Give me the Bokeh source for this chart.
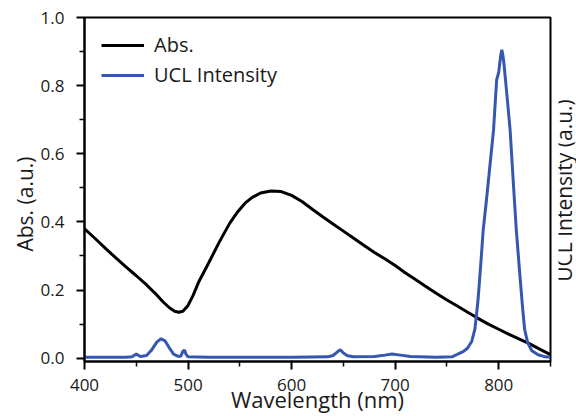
import numpy as np
from bokeh.plotting import figure
from bokeh.layouts import row
from bokeh.models import (Range1d, FixedTicker, PrintfTickFormatter, Legend,
                          LegendItem, Label)
from bokeh.embed import file_html
from bokeh.resources import INLINE

# ---------------- data ----------------
abs_wl = [400, 410, 420, 430, 440, 450, 460, 470, 476, 482, 487, 491, 495, 500,
          505, 510, 520, 530, 540, 548, 555, 562, 570, 580, 590, 600, 610, 620,
          630, 640, 650, 660, 670, 680, 690, 700, 710, 720, 730, 740, 750, 760,
          770, 780, 790, 800, 810, 820, 830, 840, 850]
abs_val = [0.380, 0.352, 0.323, 0.295, 0.268, 0.242, 0.215, 0.185, 0.165, 0.148,
           0.138, 0.135, 0.138, 0.155, 0.185, 0.222, 0.280, 0.340, 0.395, 0.430,
           0.455, 0.472, 0.485, 0.491, 0.489, 0.478, 0.460, 0.437, 0.415, 0.394,
           0.373, 0.352, 0.331, 0.310, 0.292, 0.272, 0.250, 0.230, 0.210, 0.190,
           0.171, 0.153, 0.135, 0.117, 0.100, 0.085, 0.070, 0.056, 0.042, 0.026,
           0.010]

ucl_wl = [400, 440, 446, 450, 454, 460, 465, 470, 474, 478, 482, 486, 490, 493,
          495, 496.5, 498, 500, 520, 600, 635, 640, 644, 647, 650, 654, 660, 680,
          690, 697, 705, 715, 740, 755, 761, 766, 770, 774, 777, 780, 783, 785,
          788, 791, 795, 798, 800, 802, 803, 804, 805, 808, 811, 814, 817, 820,
          823, 825, 828, 832, 838, 845, 850]
ucl_val = [0.003, 0.003, 0.004, 0.012, 0.005, 0.008, 0.025, 0.048, 0.057, 0.050,
           0.030, 0.012, 0.006, 0.006, 0.020, 0.024, 0.012, 0.004, 0.003, 0.003,
           0.004, 0.008, 0.018, 0.025, 0.015, 0.007, 0.004, 0.005, 0.009, 0.012,
           0.009, 0.005, 0.003, 0.004, 0.013, 0.020, 0.030, 0.050, 0.085, 0.170,
           0.290, 0.376, 0.460, 0.550, 0.670, 0.817, 0.840, 0.890, 0.905, 0.890,
           0.866, 0.770, 0.670, 0.520, 0.376, 0.260, 0.150, 0.085, 0.045, 0.022,
           0.010, 0.004, 0.003]

x_major = [400, 500, 600, 700, 800]
x_minor = [450, 550, 650, 750, 850]
y_major = [0.0, 0.2, 0.4, 0.6, 0.8, 1.0]
y_minor = [0.1, 0.3, 0.5, 0.7, 0.9]

series_names = ["Abs.", "UCL Intensity"]
x_title = "Wavelength (nm)"
y_title = "Abs. (a.u.)"
y2_title = "UCL Intensity (a.u.)"

FONT = "Open Sans"
BLUE = "#3557b0"
TXT = "#1a1a1a"

p = figure(width=521, height=416, output_backend="svg", toolbar_location=None,
           x_range=Range1d(400, 850), y_range=Range1d(-0.0097, 1.0),
           min_border_left=44, min_border_right=8, min_border_top=17,
           min_border_bottom=55)
p.xgrid.visible = False
p.ygrid.visible = False
p.outline_line_color = "black"
p.outline_line_width = 2
p.outline_line_alpha = 1

r_abs = p.line(abs_wl, abs_val, line_color="black", line_width=3)
r_ucl = p.line(ucl_wl, ucl_val, line_color=BLUE, line_width=3)

for ax, maj, mnr in ((p.xaxis[0], x_major, x_minor), (p.yaxis[0], y_major, y_minor)):
    ax.ticker = FixedTicker(ticks=maj, minor_ticks=mnr)
    ax.axis_line_color = "black"
    ax.axis_line_width = 2
    ax.major_tick_line_color = "black"
    ax.major_tick_line_width = 2
    ax.major_tick_out = 8
    ax.major_tick_in = 0
    ax.minor_tick_line_color = "black"
    ax.minor_tick_line_width = 1.5
    ax.minor_tick_out = 5
    ax.minor_tick_in = 0
    ax.major_label_text_font = FONT
    ax.major_label_text_font_size = "17px"
    ax.major_label_text_color = TXT
    ax.axis_label_text_font = FONT
    ax.axis_label_text_font_style = "normal"
    ax.axis_label_text_color = TXT

p.yaxis[0].formatter = PrintfTickFormatter(format="%.1f")
p.yaxis[0].major_label_standoff = 12

p.xaxis[0].major_label_standoff = 9
p.xaxis[0].axis_label = x_title
p.xaxis[0].axis_label_text_font_size = "22px"
p.xaxis[0].axis_label_text_line_height = 0.6
p.xaxis[0].axis_label_standoff = -10

legend = Legend(items=[LegendItem(label=series_names[0], renderers=[r_abs]),
                       LegendItem(label=series_names[1], renderers=[r_ucl])],
                location=(0, 256), margin=0, padding=17, spacing=3,
                glyph_width=43, glyph_height=20, label_height=20,
                label_standoff=10, label_text_font=FONT,
                label_text_font_size="20px", label_text_color=TXT,
                border_line_alpha=0, background_fill_alpha=0)
p.add_layout(legend)


def strip(width, text, bx, cy):
    s = figure(width=width, height=416, output_backend="svg",
               toolbar_location=None, x_axis_type=None, y_axis_type=None,
               x_range=Range1d(0, 1), y_range=Range1d(0, 1), min_border=0,
               outline_line_color=None)
    s.add_layout(Label(x=bx, y=cy, x_units="screen", y_units="screen",
                       text=text, text_font=FONT, text_font_size="21px",
                       angle=np.pi / 2, text_align="center",
                       text_baseline="alphabetic", text_color=TXT))
    return s


left = strip(37, y_title, 24, 157.5)
right = strip(18, y2_title, 5, 171)

layout = row(left, p, right, spacing=0)

open("out.html", "w").write(file_html(layout, INLINE))
